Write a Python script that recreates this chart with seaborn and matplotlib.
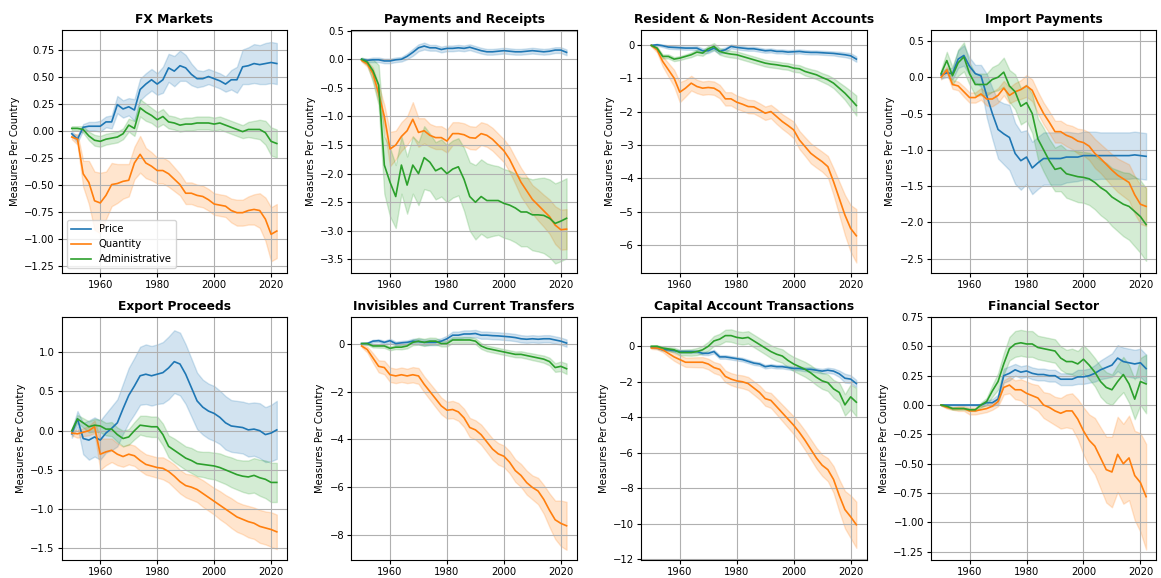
import numpy as np
import pandas as pd
import matplotlib
matplotlib.use("Agg")
import matplotlib.pyplot as plt
import seaborn as sns

# years 1950..2022, every second year
years = list(range(1950, 2023, 2))
measures = ["Price", "Quantity", "Administrative"]

# FX Markets
fx_price = [-0.03, -0.08, 0.03, 0.04, 0.04, 0.04, 0.08, 0.08, 0.24, 0.20,
            0.22, 0.19, 0.38, 0.43, 0.47, 0.43, 0.47, 0.58, 0.55, 0.60,
            0.58, 0.52, 0.48, 0.48, 0.50, 0.48, 0.46, 0.43, 0.47, 0.47,
            0.59, 0.60, 0.62, 0.61, 0.62, 0.63, 0.62]
fx_price_w = [0.02, 0.03, 0.03, 0.04, 0.04, 0.05, 0.05, 0.06, 0.08, 0.08,
              0.08, 0.10, 0.10, 0.10, 0.10, 0.10, 0.12, 0.13, 0.14, 0.14,
              0.12, 0.10, 0.08, 0.07, 0.07, 0.07, 0.07, 0.07, 0.09, 0.12,
              0.16, 0.17, 0.18, 0.18, 0.19, 0.19, 0.19]
fx_qty = [-0.06, -0.08, -0.40, -0.48, -0.65, -0.67, -0.60, -0.50, -0.49, -0.47,
          -0.46, -0.30, -0.22, -0.30, -0.33, -0.37, -0.37, -0.40, -0.45, -0.50,
          -0.58, -0.58, -0.60, -0.61, -0.64, -0.68, -0.69, -0.70, -0.74, -0.76,
          -0.76, -0.74, -0.73, -0.74, -0.82, -0.96, -0.93]
fx_qty_w = [0.02, 0.05, 0.12, 0.20, 0.27, 0.28, 0.22, 0.20, 0.18, 0.16,
            0.15, 0.15, 0.17, 0.14, 0.13, 0.12, 0.12, 0.12, 0.11, 0.10,
            0.10, 0.10, 0.10, 0.10, 0.10, 0.10, 0.10, 0.10, 0.11, 0.12,
            0.12, 0.13, 0.14, 0.16, 0.20, 0.25, 0.25]
fx_adm = [0.02, 0.02, 0.01, -0.05, -0.09, -0.10, -0.08, -0.07, -0.06, -0.03,
          0.05, 0.02, 0.21, 0.17, 0.14, 0.10, 0.13, 0.08, 0.07, 0.05,
          0.06, 0.06, 0.07, 0.07, 0.07, 0.06, 0.07, 0.05, 0.03, 0.01,
          -0.01, 0.01, 0.01, 0.01, -0.02, -0.10, -0.12]
fx_adm_w = [0.02, 0.02, 0.03, 0.04, 0.05, 0.05, 0.05, 0.05, 0.05, 0.05,
            0.06, 0.07, 0.08, 0.08, 0.07, 0.07, 0.07, 0.06, 0.06, 0.06,
            0.06, 0.06, 0.06, 0.06, 0.06, 0.06, 0.06, 0.06, 0.06, 0.06,
            0.06, 0.07, 0.08, 0.09, 0.11, 0.13, 0.13]

# Payments and Receipts
pr_price = [0.00, -0.02, -0.01, -0.01, -0.03, -0.03, -0.01, 0.00, 0.05, 0.12,
            0.20, 0.23, 0.20, 0.20, 0.17, 0.19, 0.19, 0.20, 0.19, 0.21,
            0.18, 0.15, 0.13, 0.13, 0.14, 0.15, 0.14, 0.13, 0.13, 0.14,
            0.15, 0.14, 0.13, 0.14, 0.16, 0.16, 0.12]
pr_price_w = [0.02, 0.03, 0.04, 0.04, 0.04, 0.04, 0.04, 0.04, 0.05, 0.06,
              0.06, 0.06, 0.05, 0.05, 0.05, 0.05, 0.05, 0.05, 0.05, 0.05,
              0.05, 0.05, 0.05, 0.05, 0.05, 0.05, 0.05, 0.05, 0.05, 0.05,
              0.05, 0.05, 0.05, 0.05, 0.05, 0.05, 0.05]
pr_qty = [-0.02, -0.08, -0.25, -0.60, -1.00, -1.57, -1.50, -1.35, -1.25, -1.05,
          -1.28, -1.25, -1.33, -1.37, -1.37, -1.43, -1.30, -1.30, -1.32, -1.37,
          -1.38, -1.30, -1.33, -1.40, -1.50, -1.60, -1.75, -1.95, -2.15, -2.30,
          -2.45, -2.55, -2.65, -2.75, -2.90, -2.98, -2.97]
pr_qty_w = [0.02, 0.05, 0.10, 0.15, 0.20, 0.30, 0.25, 0.25, 0.25, 0.30,
            0.25, 0.22, 0.20, 0.20, 0.20, 0.20, 0.20, 0.20, 0.20, 0.20,
            0.20, 0.20, 0.20, 0.20, 0.20, 0.20, 0.22, 0.23, 0.25, 0.25,
            0.25, 0.27, 0.28, 0.30, 0.33, 0.35, 0.35]
pr_adm = [0.00, -0.05, -0.20, -0.45, -1.85, -2.15, -2.40, -1.85, -2.20, -1.85,
          -2.00, -1.72, -1.80, -1.95, -1.90, -2.00, -1.92, -1.88, -2.10, -2.40,
          -2.50, -2.40, -2.47, -2.47, -2.47, -2.52, -2.55, -2.60, -2.67, -2.67,
          -2.72, -2.72, -2.73, -2.78, -2.87, -2.83, -2.78]
pr_adm_w = [0.03, 0.05, 0.20, 0.35, 0.50, 0.60, 0.55, 0.50, 0.50, 0.50,
            0.55, 0.55, 0.50, 0.50, 0.50, 0.50, 0.50, 0.50, 0.55, 0.60,
            0.65, 0.65, 0.65, 0.62, 0.60, 0.60, 0.60, 0.60, 0.60, 0.60,
            0.62, 0.64, 0.66, 0.68, 0.70, 0.70, 0.70]

# Resident & Non-Resident Accounts
rn_price = [-0.02, 0.00, -0.03, -0.07, -0.08, -0.09, -0.10, -0.10, -0.10, -0.18,
            -0.18, -0.10, -0.20, -0.15, -0.05, -0.08, -0.10, -0.12, -0.12, -0.15,
            -0.18, -0.17, -0.20, -0.20, -0.22, -0.21, -0.20, -0.22, -0.23, -0.23,
            -0.24, -0.25, -0.26, -0.28, -0.30, -0.33, -0.43]
rn_price_w = [0.02, 0.03, 0.04, 0.05, 0.05, 0.05, 0.05, 0.05, 0.06, 0.07,
              0.07, 0.07, 0.07, 0.07, 0.06, 0.06, 0.06, 0.06, 0.06, 0.06,
              0.06, 0.06, 0.06, 0.06, 0.06, 0.06, 0.06, 0.06, 0.06, 0.06,
              0.06, 0.06, 0.06, 0.07, 0.07, 0.08, 0.08]
rn_qty = [-0.02, -0.15, -0.50, -0.75, -1.00, -1.42, -1.30, -1.15, -1.25, -1.30,
          -1.28, -1.30, -1.40, -1.62, -1.62, -1.72, -1.78, -1.85, -1.86, -1.95,
          -2.05, -2.00, -2.15, -2.30, -2.42, -2.55, -2.85, -3.05, -3.25, -3.38,
          -3.50, -3.65, -4.10, -4.60, -5.10, -5.50, -5.72]
rn_qty_w = [0.03, 0.08, 0.15, 0.20, 0.25, 0.30, 0.25, 0.22, 0.20, 0.20,
            0.20, 0.20, 0.20, 0.20, 0.20, 0.20, 0.20, 0.20, 0.20, 0.20,
            0.20, 0.20, 0.22, 0.22, 0.23, 0.25, 0.27, 0.28, 0.30, 0.30,
            0.30, 0.32, 0.40, 0.50, 0.60, 0.70, 0.80]
rn_adm = [-0.02, -0.10, -0.35, -0.35, -0.43, -0.40, -0.35, -0.30, -0.22, -0.25,
          -0.12, -0.05, -0.20, -0.25, -0.28, -0.30, -0.35, -0.40, -0.45, -0.50,
          -0.55, -0.58, -0.60, -0.63, -0.65, -0.70, -0.72, -0.80, -0.85, -0.90,
          -0.98, -1.05, -1.15, -1.30, -1.45, -1.63, -1.82]
rn_adm_w = [0.02, 0.04, 0.06, 0.06, 0.06, 0.06, 0.06, 0.07, 0.08, 0.08,
            0.09, 0.10, 0.10, 0.10, 0.10, 0.10, 0.10, 0.10, 0.10, 0.10,
            0.10, 0.10, 0.10, 0.10, 0.10, 0.11, 0.11, 0.12, 0.12, 0.13,
            0.13, 0.14, 0.15, 0.17, 0.20, 0.25, 0.30]

# Import Payments
ip_price = [0.03, 0.06, 0.05, 0.25, 0.30, 0.15, 0.05, 0.02, -0.25, -0.50,
            -0.72, -0.78, -0.83, -1.05, -1.15, -1.10, -1.25, -1.18, -1.12, -1.12,
            -1.12, -1.12, -1.10, -1.10, -1.10, -1.08, -1.08, -1.08, -1.08, -1.08,
            -1.08, -1.08, -1.08, -1.08, -1.07, -1.08, -1.09]
ip_price_w = [0.05, 0.06, 0.08, 0.12, 0.14, 0.12, 0.12, 0.15, 0.30, 0.35,
              0.40, 0.42, 0.45, 0.42, 0.40, 0.37, 0.36, 0.36, 0.36, 0.36,
              0.36, 0.36, 0.35, 0.34, 0.33, 0.33, 0.33, 0.33, 0.32, 0.32,
              0.32, 0.32, 0.32, 0.32, 0.32, 0.32, 0.32]
ip_qty = [0.00, 0.10, -0.10, -0.12, -0.20, -0.28, -0.28, -0.23, -0.30, -0.30,
          -0.25, -0.15, -0.25, -0.20, -0.17, -0.12, -0.18, -0.35, -0.50, -0.62,
          -0.75, -0.75, -0.80, -0.83, -0.88, -0.90, -0.95, -1.05, -1.12, -1.20,
          -1.28, -1.35, -1.40, -1.45, -1.62, -1.75, -1.78]
ip_qty_w = [0.03, 0.05, 0.06, 0.06, 0.07, 0.07, 0.07, 0.08, 0.09, 0.10,
            0.10, 0.10, 0.11, 0.12, 0.13, 0.15, 0.15, 0.15, 0.15, 0.15,
            0.15, 0.15, 0.15, 0.16, 0.17, 0.18, 0.19, 0.20, 0.20, 0.21,
            0.22, 0.23, 0.24, 0.25, 0.26, 0.27, 0.27]
ip_adm = [0.05, 0.23, 0.02, 0.20, 0.28, 0.05, -0.10, -0.10, -0.10, -0.03,
          0.00, 0.07, -0.12, -0.20, -0.40, -0.35, -0.50, -0.85, -1.00, -1.15,
          -1.27, -1.25, -1.33, -1.35, -1.37, -1.38, -1.40, -1.45, -1.52, -1.57,
          -1.65, -1.70, -1.75, -1.78, -1.85, -1.92, -2.03]
ip_adm_w = [0.05, 0.12, 0.12, 0.18, 0.20, 0.15, 0.15, 0.15, 0.15, 0.17,
            0.18, 0.20, 0.22, 0.24, 0.25, 0.25, 0.27, 0.28, 0.30, 0.30,
            0.30, 0.32, 0.33, 0.34, 0.35, 0.35, 0.36, 0.37, 0.38, 0.39,
            0.40, 0.42, 0.44, 0.46, 0.48, 0.50, 0.50]

# Export Proceeds
ep_price = [-0.04, 0.15, -0.10, -0.12, -0.08, -0.12, -0.03, 0.03, 0.10, 0.28,
            0.45, 0.57, 0.70, 0.72, 0.70, 0.72, 0.74, 0.80, 0.88, 0.85,
            0.72, 0.55, 0.38, 0.30, 0.25, 0.22, 0.17, 0.10, 0.06, 0.05,
            0.04, 0.01, 0.02, 0.00, -0.05, -0.03, 0.01]
ep_price_w = [0.05, 0.10, 0.20, 0.25, 0.25, 0.25, 0.25, 0.28, 0.30, 0.32,
              0.35, 0.36, 0.37, 0.38, 0.38, 0.38, 0.39, 0.40, 0.40, 0.40,
              0.38, 0.37, 0.36, 0.35, 0.35, 0.35, 0.34, 0.34, 0.33, 0.33,
              0.33, 0.34, 0.34, 0.35, 0.35, 0.36, 0.37]
ep_qty = [-0.03, -0.04, -0.02, 0.00, 0.05, -0.30, -0.27, -0.25, -0.30, -0.33,
          -0.30, -0.32, -0.38, -0.43, -0.45, -0.47, -0.48, -0.52, -0.58, -0.65,
          -0.70, -0.72, -0.75, -0.80, -0.85, -0.90, -0.95, -1.00, -1.05, -1.10,
          -1.13, -1.16, -1.18, -1.22, -1.24, -1.26, -1.29]
ep_qty_w = [0.03, 0.05, 0.05, 0.06, 0.08, 0.20, 0.17, 0.15, 0.14, 0.13,
            0.13, 0.13, 0.13, 0.13, 0.13, 0.13, 0.14, 0.14, 0.15, 0.15,
            0.15, 0.16, 0.16, 0.17, 0.17, 0.17, 0.18, 0.18, 0.19, 0.19,
            0.19, 0.20, 0.20, 0.21, 0.21, 0.22, 0.22]
ep_adm = [0.00, 0.15, 0.10, 0.05, 0.07, 0.06, 0.02, 0.02, -0.05, -0.10,
          -0.08, 0.00, 0.07, 0.06, 0.05, 0.05, -0.05, -0.20, -0.25, -0.30,
          -0.35, -0.38, -0.42, -0.43, -0.44, -0.45, -0.47, -0.50, -0.53, -0.56,
          -0.58, -0.59, -0.57, -0.60, -0.62, -0.66, -0.66]
ep_adm_w = [0.03, 0.05, 0.06, 0.07, 0.08, 0.08, 0.08, 0.09, 0.09, 0.10,
            0.10, 0.11, 0.12, 0.13, 0.13, 0.13, 0.14, 0.14, 0.15, 0.15,
            0.15, 0.16, 0.16, 0.16, 0.17, 0.17, 0.18, 0.18, 0.19, 0.19,
            0.20, 0.21, 0.22, 0.23, 0.24, 0.25, 0.25]

# Invisibles and Current Transfers
ic_price = [0.00, 0.00, 0.10, 0.12, 0.05, 0.12, 0.00, 0.03, 0.05, 0.10,
            0.08, 0.05, 0.05, 0.05, 0.10, 0.20, 0.35, 0.35, 0.40, 0.40,
            0.42, 0.35, 0.35, 0.33, 0.32, 0.30, 0.28, 0.25, 0.20, 0.18,
            0.20, 0.18, 0.20, 0.20, 0.15, 0.10, 0.02]
ic_price_w = [0.03, 0.05, 0.06, 0.06, 0.07, 0.08, 0.08, 0.08, 0.08, 0.10,
              0.12, 0.12, 0.12, 0.12, 0.12, 0.13, 0.15, 0.15, 0.15, 0.15,
              0.15, 0.15, 0.15, 0.15, 0.15, 0.15, 0.15, 0.15, 0.15, 0.15,
              0.15, 0.15, 0.15, 0.15, 0.15, 0.15, 0.15]
ic_qty = [-0.10, -0.25, -0.60, -0.95, -1.00, -1.30, -1.35, -1.30, -1.35, -1.30,
          -1.35, -1.70, -2.00, -2.30, -2.60, -2.78, -2.75, -2.85, -3.10, -3.50,
          -3.60, -3.80, -4.10, -4.40, -4.60, -4.70, -4.95, -5.30, -5.50, -5.80,
          -6.00, -6.15, -6.50, -6.95, -7.35, -7.50, -7.60]
ic_qty_w = [0.05, 0.12, 0.20, 0.25, 0.28, 0.30, 0.30, 0.30, 0.30, 0.32,
            0.33, 0.33, 0.34, 0.35, 0.35, 0.35, 0.36, 0.37, 0.38, 0.40,
            0.40, 0.42, 0.43, 0.44, 0.45, 0.45, 0.46, 0.47, 0.48, 0.50,
            0.50, 0.55, 0.60, 0.70, 0.80, 0.95, 1.00]
ic_adm = [0.00, 0.00, -0.10, -0.10, -0.10, -0.20, -0.15, -0.15, -0.10, 0.05,
          0.10, 0.05, 0.10, 0.10, 0.00, 0.00, 0.15, 0.15, 0.15, 0.15,
          0.10, -0.10, -0.20, -0.25, -0.30, -0.35, -0.40, -0.45, -0.45, -0.50,
          -0.55, -0.60, -0.65, -0.75, -1.00, -0.95, -1.05]
ic_adm_w = [0.03, 0.05, 0.06, 0.07, 0.08, 0.08, 0.08, 0.09, 0.10, 0.12,
            0.14, 0.15, 0.15, 0.14, 0.12, 0.12, 0.12, 0.12, 0.12, 0.12,
            0.12, 0.12, 0.12, 0.12, 0.12, 0.12, 0.12, 0.12, 0.13, 0.13,
            0.14, 0.14, 0.15, 0.16, 0.18, 0.20, 0.22]

# Capital Account Transactions
ca_price = [-0.05, -0.10, -0.20, -0.20, -0.25, -0.30, -0.30, -0.30, -0.30, -0.40,
            -0.40, -0.30, -0.60, -0.60, -0.65, -0.70, -0.75, -0.85, -0.95, -1.00,
            -1.15, -1.10, -1.15, -1.15, -1.20, -1.25, -1.25, -1.30, -1.30, -1.35,
            -1.40, -1.35, -1.40, -1.55, -1.80, -1.85, -2.10]
ca_price_w = [0.03, 0.05, 0.06, 0.07, 0.08, 0.08, 0.08, 0.08, 0.08, 0.09,
              0.10, 0.10, 0.10, 0.10, 0.10, 0.10, 0.10, 0.10, 0.10, 0.10,
              0.10, 0.10, 0.10, 0.10, 0.10, 0.10, 0.11, 0.11, 0.12, 0.12,
              0.13, 0.14, 0.15, 0.18, 0.25, 0.22, 0.20]
ca_qty = [-0.10, -0.10, -0.20, -0.40, -0.60, -0.75, -0.90, -0.90, -0.90, -0.90,
          -1.00, -1.20, -1.30, -1.70, -1.85, -1.95, -2.00, -2.10, -2.35, -2.60,
          -2.95, -3.05, -3.40, -3.75, -4.10, -4.45, -4.85, -5.30, -5.80, -6.30,
          -6.70, -6.95, -7.50, -8.40, -9.20, -9.60, -10.05]
ca_qty_w = [0.05, 0.08, 0.12, 0.18, 0.22, 0.25, 0.26, 0.27, 0.28, 0.29,
            0.30, 0.31, 0.32, 0.33, 0.34, 0.35, 0.36, 0.37, 0.38, 0.39,
            0.40, 0.42, 0.44, 0.46, 0.48, 0.50, 0.52, 0.54, 0.56, 0.58,
            0.60, 0.65, 0.75, 0.90, 1.05, 1.20, 1.30]
ca_adm = [0.00, 0.00, -0.10, -0.15, -0.20, -0.35, -0.35, -0.35, -0.30, -0.20,
          0.00, 0.30, 0.40, 0.60, 0.60, 0.50, 0.45, 0.50, 0.30, 0.10,
          -0.10, -0.30, -0.45, -0.55, -0.80, -1.00, -1.15, -1.30, -1.50, -1.75,
          -1.95, -2.05, -2.40, -2.60, -3.30, -2.85, -3.15]
ca_adm_w = [0.03, 0.05, 0.08, 0.10, 0.12, 0.15, 0.17, 0.18, 0.20, 0.22,
            0.25, 0.28, 0.30, 0.33, 0.35, 0.35, 0.35, 0.35, 0.35, 0.35,
            0.35, 0.36, 0.37, 0.38, 0.39, 0.40, 0.41, 0.42, 0.43, 0.44,
            0.45, 0.47, 0.50, 0.55, 0.60, 0.70, 0.80]

# Financial Sector
fs_price = [0.00, 0.00, 0.00, 0.00, 0.00, 0.00, 0.00, 0.00, 0.02, 0.02,
            0.05, 0.25, 0.27, 0.30, 0.28, 0.29, 0.27, 0.26, 0.26, 0.25,
            0.25, 0.22, 0.22, 0.22, 0.24, 0.24, 0.25, 0.27, 0.30, 0.32,
            0.34, 0.40, 0.37, 0.36, 0.35, 0.36, 0.31]
fs_price_w = [0.005, 0.005, 0.005, 0.005, 0.005, 0.005, 0.005, 0.01, 0.02, 0.03,
              0.04, 0.06, 0.06, 0.05, 0.05, 0.05, 0.05, 0.05, 0.05, 0.05,
              0.05, 0.05, 0.05, 0.05, 0.06, 0.06, 0.06, 0.07, 0.08, 0.09,
              0.10, 0.11, 0.12, 0.12, 0.12, 0.12, 0.12]
fs_qty = [0.00, -0.02, -0.03, -0.03, -0.03, -0.05, -0.05, -0.04, -0.03, -0.01,
          0.03, 0.15, 0.17, 0.13, 0.13, 0.10, 0.08, 0.06, 0.00, -0.02,
          -0.05, -0.07, -0.05, -0.05, -0.12, -0.22, -0.30, -0.35, -0.45, -0.55,
          -0.57, -0.42, -0.50, -0.45, -0.60, -0.66, -0.78]
fs_qty_w = [0.005, 0.01, 0.01, 0.02, 0.02, 0.03, 0.03, 0.03, 0.03, 0.03,
            0.04, 0.06, 0.07, 0.08, 0.09, 0.10, 0.10, 0.11, 0.11, 0.12,
            0.12, 0.13, 0.14, 0.15, 0.17, 0.20, 0.22, 0.24, 0.26, 0.28,
            0.30, 0.32, 0.34, 0.36, 0.38, 0.42, 0.45]
fs_adm = [0.00, -0.01, -0.03, -0.03, -0.03, -0.04, -0.04, 0.00, 0.03, 0.12,
          0.20, 0.35, 0.48, 0.52, 0.53, 0.52, 0.52, 0.49, 0.48, 0.47,
          0.46, 0.40, 0.37, 0.37, 0.35, 0.39, 0.34, 0.28, 0.20, 0.15,
          0.13, 0.20, 0.26, 0.18, 0.05, 0.20, 0.18]
fs_adm_w = [0.005, 0.01, 0.01, 0.01, 0.01, 0.01, 0.01, 0.02, 0.03, 0.05,
            0.07, 0.09, 0.10, 0.11, 0.11, 0.11, 0.11, 0.10, 0.10, 0.10,
            0.10, 0.10, 0.10, 0.11, 0.11, 0.12, 0.12, 0.12, 0.13, 0.13,
            0.13, 0.14, 0.15, 0.16, 0.17, 0.20, 0.25]

panels = [
    ("FX Markets", [(fx_price, fx_price_w), (fx_qty, fx_qty_w), (fx_adm, fx_adm_w)]),
    ("Payments and Receipts", [(pr_price, pr_price_w), (pr_qty, pr_qty_w), (pr_adm, pr_adm_w)]),
    ("Resident & Non-Resident Accounts", [(rn_price, rn_price_w), (rn_qty, rn_qty_w), (rn_adm, rn_adm_w)]),
    ("Import Payments", [(ip_price, ip_price_w), (ip_qty, ip_qty_w), (ip_adm, ip_adm_w)]),
    ("Export Proceeds", [(ep_price, ep_price_w), (ep_qty, ep_qty_w), (ep_adm, ep_adm_w)]),
    ("Invisibles and Current Transfers", [(ic_price, ic_price_w), (ic_qty, ic_qty_w), (ic_adm, ic_adm_w)]),
    ("Capital Account Transactions", [(ca_price, ca_price_w), (ca_qty, ca_qty_w), (ca_adm, ca_adm_w)]),
    ("Financial Sector", [(fs_price, fs_price_w), (fs_qty, fs_qty_w), (fs_adm, fs_adm_w)]),
]

# axis ranges and ticks as in the original
ylims = [(-1.32, 0.93), (-3.74, 0.51), (-6.84, 0.44), (-2.70, 0.65),
         (-1.65, 1.45), (-9.03, 1.11), (-12.04, 1.65), (-1.32, 0.75)]
yticks = [np.arange(-1.25, 0.76, 0.25), np.arange(-3.5, 0.51, 0.5),
          np.arange(-6, 0.1, 1), np.arange(-2.5, 0.51, 0.5),
          np.arange(-1.5, 1.01, 0.5), np.arange(-8, 0.1, 2),
          np.arange(-12, 0.1, 2), np.arange(-1.25, 0.76, 0.25)]

# long table: lower / centre / upper per year, seaborn draws median + full range band
rows = []
for title, series in panels:
    for name, (mid, w) in zip(measures, series):
        for y, m, h in zip(years, mid, w):
            rows.append((title, name, y, m - h))
            rows.append((title, name, y, m))
            rows.append((title, name, y, m + h))
df = pd.DataFrame(rows, columns=["panel", "measure", "year", "value"])

fig, axes = plt.subplots(2, 4, figsize=(11.61, 5.78), dpi=100)
plt.subplots_adjust(left=0.053, right=0.996, top=0.948, bottom=0.031,
                    wspace=0.285, hspace=0.18)

for i, (ax, (title, _)) in enumerate(zip(axes.flat, panels)):
    sub = df[df["panel"] == title]
    sns.lineplot(data=sub, x="year", y="value", hue="measure", hue_order=measures,
                 estimator="median", errorbar=("pi", 100), linewidth=1.2,
                 ax=ax, legend=(i == 0))
    ax.set_title(title, fontsize=8.8, fontweight="bold", pad=5)
    ax.set_xlabel("")
    ax.set_ylabel("Measures Per Country", fontsize=7.2, labelpad=3)
    ax.set_ylim(*ylims[i])
    ax.set_yticks(yticks[i])
    ax.set_xticks([1960, 1980, 2000, 2020])
    ax.tick_params(labelsize=7.2, length=2.8, pad=2.2)
    ax.grid(True)
    if i == 0:
        ax.legend(loc="lower left", fontsize=7.2)

plt.savefig("out.png", dpi=100)
